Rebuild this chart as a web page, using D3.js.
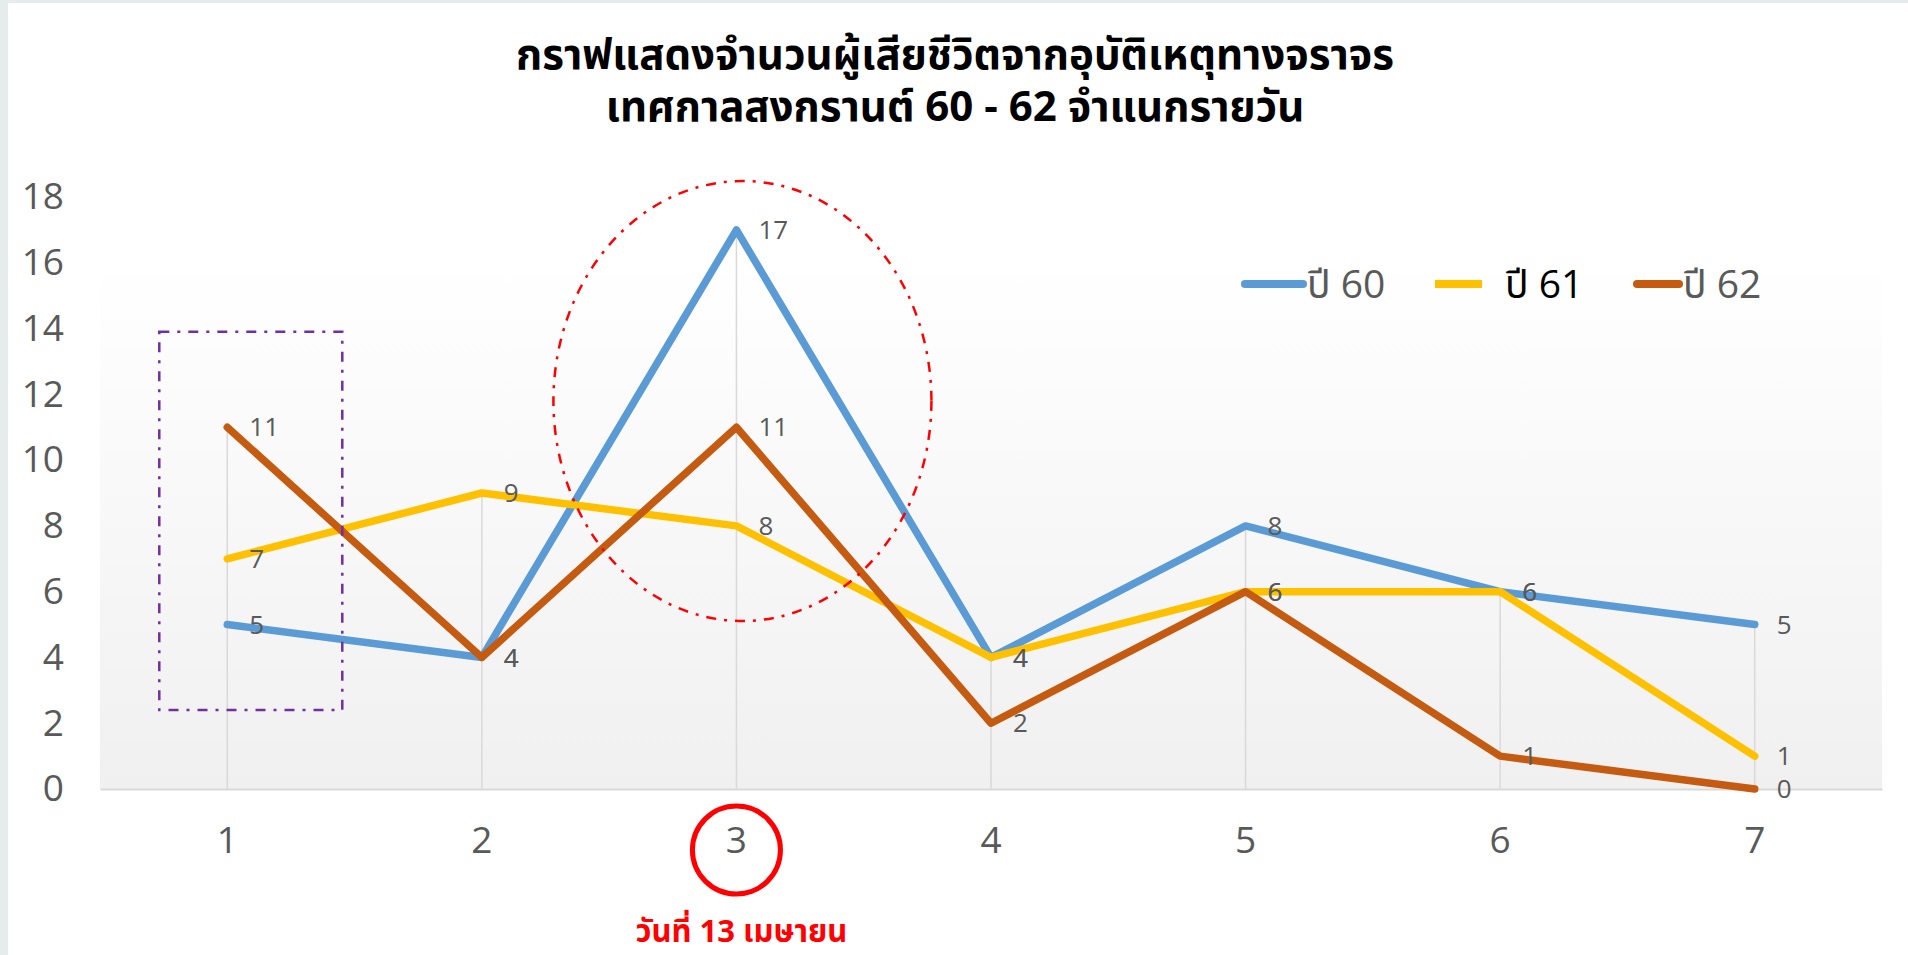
<!DOCTYPE html>
<html>
<head>
<meta charset="utf-8">
<script src="https://cdn.jsdelivr.net/npm/d3@7"></script>
<style>
  body { margin: 0; background: #fff; }
  svg { display: block; font-family: "Open Sans", "Noto Sans Thai", "Noto Sans", sans-serif; }
</style>
</head>
<body>
<svg width="1908" height="955"></svg>
<script>
// data
var days = ["1", "2", "3", "4", "5", "6", "7"];
var seriesNames = ["ปี 60", "ปี 61", "ปี 62"];
var y60 = [5, 4, 17, 4, 8, 6, 5];
var y61 = [7, 9, 8, 4, 6, 6, 1];
var y62 = [11, 4, 11, 2, 6, 1, 0];
var yTicks = [0, 2, 4, 6, 8, 10, 12, 14, 16, 18];
var titleLines = ["กราฟแสดงจำนวนผู้เสียชีวิตจากอุบัติเหตุทางจราจร", "เทศกาลสงกรานต์ 60 - 62 จำแนกรายวัน"];
var noteText = "วันที่ 13 เมษายน";

var colors = ["#5B9BD5", "#FFC000", "#C55A11"];
var series = [y60, y61, y62];

var svg = d3.select("svg");

// page edge strips
svg.append("rect").attr("x", 0).attr("y", 0).attr("width", 1908).attr("height", 3).attr("fill", "#e6ebeb");
svg.append("rect").attr("x", 0).attr("y", 0).attr("width", 8).attr("height", 955).attr("fill", "#e6ebeb");

var xScale = d3.scaleBand().domain(days).range([100, 1882]);
var yScale = d3.scaleLinear().domain([0, 18]).range([789, 197]);
function cx(d) { return xScale(d) + xScale.bandwidth() / 2; }

// plot background gradient
var grad = svg.append("defs").append("linearGradient")
    .attr("id", "bg").attr("x1", 0).attr("y1", 0).attr("x2", 0).attr("y2", 1);
grad.append("stop").attr("offset", "0%").attr("stop-color", "#ffffff");
grad.append("stop").attr("offset", "100%").attr("stop-color", "#f0f0f0");
svg.append("rect")
    .attr("x", 100).attr("y", 262)
    .attr("width", 1782).attr("height", 789 - 262)
    .attr("fill", "url(#bg)");

// title
svg.selectAll(".title")
    .data(titleLines)
    .enter().append("text")
    .attr("class", "title")
    .attr("x", 955)
    .attr("y", function (d, i) { return 54 + i * 52; })
    .attr("dy", "0.35em")
    .attr("text-anchor", "middle")
    .attr("font-size", 42)
    .attr("font-weight", "bold")
    .attr("fill", "#000")
    .text(function (d) { return d; });

// drop lines from highest point
svg.selectAll(".drop")
    .data(days)
    .enter().append("line")
    .attr("x1", function (d) { return cx(d); })
    .attr("x2", function (d) { return cx(d); })
    .attr("y1", function (d, i) { return yScale(d3.max(series, function (s) { return s[i]; })); })
    .attr("y2", yScale(0))
    .attr("stroke", "#d9d9d9")
    .attr("stroke-width", 1.5);

// y axis
var yAxis = svg.append("g")
    .attr("transform", "translate(100,0)")
    .call(d3.axisLeft(yScale).tickValues(yTicks).tickSize(0).tickPadding(36));
yAxis.select(".domain").remove();
yAxis.selectAll("text")
    .attr("font-family", "Open Sans, sans-serif")
    .attr("font-size", 37)
    .attr("fill", "#595959");

// x axis
var xAxis = svg.append("g")
    .attr("transform", "translate(0," + yScale(0) + ")")
    .call(d3.axisBottom(xScale).tickSize(0).tickSizeOuter(0));
xAxis.select(".domain").attr("stroke", "#d9d9d9").attr("stroke-width", 2);
xAxis.selectAll("text")
    .attr("y", 51)
    .attr("dy", "0.35em")
    .attr("font-family", "Open Sans, sans-serif")
    .attr("font-size", 37)
    .attr("fill", "#595959");

// lines
var line = d3.line()
    .x(function (d, i) { return cx(days[i]); })
    .y(function (d) { return yScale(d); });

svg.selectAll(".series")
    .data(series)
    .enter().append("path")
    .attr("d", line)
    .attr("fill", "none")
    .attr("stroke", function (d, i) { return colors[i]; })
    .attr("stroke-width", 7.5)
    .attr("stroke-linecap", "round")
    .attr("stroke-linejoin", "round");

// data labels
series.forEach(function (s) {
    svg.selectAll(null)
        .data(s)
        .enter().append("text")
        .attr("x", function (d, i) { return cx(days[i]) + 22; })
        .attr("y", function (d) { return yScale(d); })
        .attr("dy", "0.35em")
        .attr("font-size", 26)
        .attr("fill", "#595959")
        .text(function (d) { return d; });
});

// legend
var legendX = [1245, 1435, 1637];
var legendLen = [58, 47, 42];
var lg = svg.selectAll(".legend")
    .data(seriesNames)
    .enter().append("g")
    .attr("transform", function (d, i) { return "translate(" + legendX[i] + ",284)"; });
lg.append("line")
    .attr("x1", 0)
    .attr("x2", function (d, i) { return legendLen[i]; })
    .attr("stroke", function (d, i) { return colors[i]; })
    .attr("stroke-width", 8)
    .attr("stroke-linecap", function (d, i) { return i == 1 ? "butt" : "round"; });
lg.append("text")
    .attr("x", function (d, i) { return i == 1 ? 70 : legendLen[i] + 4; })
    .attr("dy", "0.35em")
    .attr("font-size", 39)
    .attr("fill", function (d, i) { return i == 1 ? "#000" : "#595959"; })
    .text(function (d) { return d; });

// annotations
svg.append("rect")
    .attr("x", cx("1") - 68).attr("y", yScale(13.9))
    .attr("width", 183).attr("height", yScale(2.4) - yScale(13.9))
    .attr("fill", "none")
    .attr("stroke", "#7030A0")
    .attr("stroke-width", 2.5)
    .attr("stroke-dasharray", "10,8,3,8");

svg.append("ellipse")
    .attr("cx", cx("3") + 6).attr("cy", 401)
    .attr("rx", 189).attr("ry", 220)
    .attr("fill", "none")
    .attr("stroke", "#FF0000")
    .attr("stroke-width", 2.5)
    .attr("stroke-dasharray", "10,8,3,8");

svg.append("circle")
    .attr("cx", cx("3")).attr("cy", 850)
    .attr("r", 44)
    .attr("fill", "none")
    .attr("stroke", "#FF0000")
    .attr("stroke-width", 5);

svg.append("text")
    .attr("x", cx("3") + 5)
    .attr("y", 931)
    .attr("dy", "0.35em")
    .attr("text-anchor", "middle")
    .attr("font-size", 31)
    .attr("font-weight", "bold")
    .attr("fill", "#FF0000")
    .text(noteText);
</script>
</body>
</html>
